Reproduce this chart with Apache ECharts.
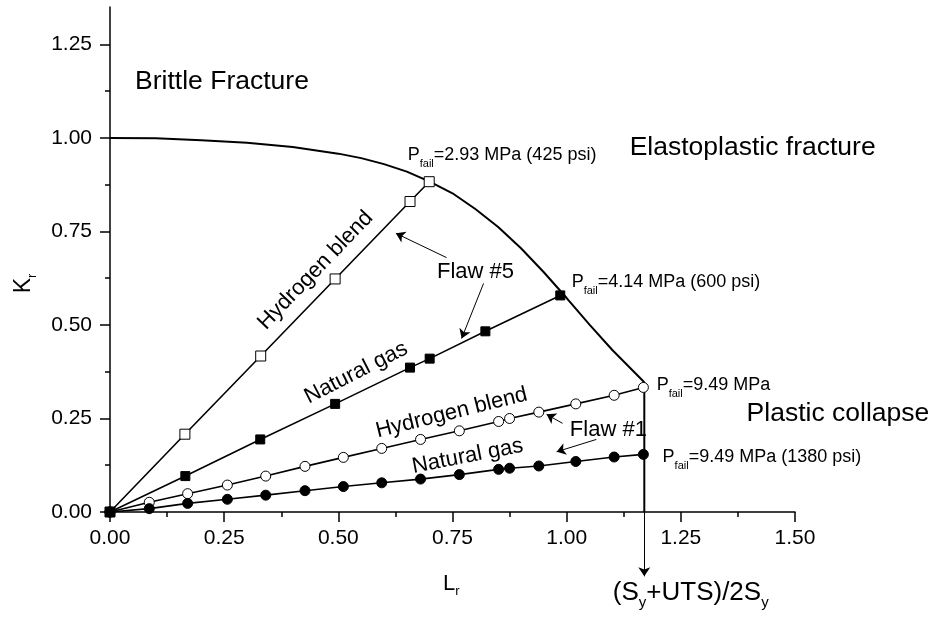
<!DOCTYPE html>
<html>
<head>
<meta charset="utf-8">
<script src="https://cdn.jsdelivr.net/npm/echarts@6/dist/echarts.min.js"></script>
<style>
  html, body { margin: 0; padding: 0; background: #fff; }
  #chart { width: 933px; height: 617px; }
</style>
</head>
<body>
<div id="chart"></div>
<script>
// FAD curve (Lr, Kr)
const fadLr = [0, 0.1, 0.2, 0.3, 0.4, 0.5, 0.55, 0.6, 0.65, 0.7, 0.75, 0.8, 0.85, 0.9, 0.95, 1.0, 1.05, 1.1, 1.17];
const fadKr = [1.0, 0.999, 0.994, 0.987, 0.976, 0.958, 0.946, 0.93, 0.91, 0.883, 0.852, 0.81, 0.762, 0.705, 0.641, 0.572, 0.501, 0.433, 0.347];
// Lr max cut-off
const cutLr = [1.17, 1.17];
const cutKr = [0.347, 0];

// Flaw #5
const h5Lr = [0, 0.164, 0.33, 0.493, 0.657, 0.699];
const h5Kr = [0, 0.208, 0.417, 0.623, 0.83, 0.883];
const n5Lr = [0, 0.165, 0.329, 0.493, 0.657, 0.7, 0.822, 0.986];
const n5Kr = [0, 0.096, 0.194, 0.289, 0.386, 0.41, 0.483, 0.579];

// Flaw #1
const flaw1Lr = [0, 0.086, 0.17, 0.257, 0.341, 0.427, 0.511, 0.595, 0.68, 0.765, 0.851, 0.875, 0.939, 1.02, 1.104, 1.168];
const h1Kr = [0, 0.026, 0.049, 0.072, 0.096, 0.122, 0.146, 0.17, 0.194, 0.217, 0.242, 0.25, 0.267, 0.289, 0.312, 0.333];
const n1Kr = [0, 0.009, 0.023, 0.034, 0.045, 0.057, 0.068, 0.078, 0.088, 0.1, 0.114, 0.117, 0.123, 0.135, 0.147, 0.154];

// ticks
const yTicks = [0, 0.25, 0.5, 0.75, 1.0, 1.25];
const yMinorTicks = [0.125, 0.375, 0.625, 0.875, 1.125];

const FONT = '"Liberation Sans", Arial, sans-serif';
const zip = (xs, ys) => xs.map((x, i) => [x, ys[i]]);

let chart = echarts.init(document.getElementById('chart'), null, { renderer: 'canvas' });

const black = '#000';
const axisLine = { show: true, lineStyle: { color: black, width: 1.5 } };

function dataSeries(name, data, symbol, fill, size) {
    return {
        name: name,
        type: 'line',
        data: data,
        symbol: symbol,
        symbolSize: size,
        showSymbol: true,
        lineStyle: { color: black, width: 1.6 },
        itemStyle: { color: fill, borderColor: black, borderWidth: 1 },
        z: 3
    };
}

// arrows, coords in (Lr, Kr)
const arrows = [
    [[0.737, 0.680], [0.626, 0.745]],
    [[0.818, 0.611], [0.770, 0.464]],
    [[0.991, 0.237], [0.956, 0.261]],
    [[1.065, 0.194], [0.978, 0.161]],
    [[1.17, 0], [1.17, -0.172]]
];

chart.setOption({
    animation: false,
    backgroundColor: '#fff',
    grid: { left: 110, right: 138, top: 7, bottom: 105 },
    xAxis: {
        type: 'value',
        min: 0,
        max: 1.5,
        interval: 0.25,
        axisLine: axisLine,
        axisTick: { length: 10, lineStyle: { color: black, width: 1.5 } },
        minorTick: { show: true, splitNumber: 2, length: 5, lineStyle: { color: black, width: 1.5 } },
        axisLabel: { color: black, fontSize: 21, fontFamily: FONT, margin: 16, formatter: v => v.toFixed(2) },
        splitLine: { show: false }
    },
    yAxis: [{
        type: 'value',
        position: 'left',
        min: 0,
        max: 1.35,
        interval: 0.25,
        axisLine: axisLine,
        axisTick: { length: 10, customValues: yTicks, lineStyle: { color: black, width: 1.5 } },
        axisLabel: { color: black, fontSize: 21, fontFamily: FONT, margin: 18, customValues: yTicks, formatter: v => v.toFixed(2) },
        splitLine: { show: false }
    }, {
        type: 'value',
        position: 'left',
        min: 0,
        max: 1.35,
        axisLine: { show: false },
        axisTick: { length: 5, customValues: yMinorTicks, lineStyle: { color: black, width: 1.5 } },
        axisLabel: { show: false },
        splitLine: { show: false }
    }],
    series: [
        {
            name: 'FAD',
            type: 'line',
            data: zip(fadLr, fadKr),
            symbol: 'none',
            lineStyle: { color: black, width: 2 },
            z: 2
        },
        {
            name: 'Lr max',
            type: 'line',
            data: zip(cutLr, cutKr),
            symbol: 'none',
            lineStyle: { color: black, width: 2 },
            z: 2
        },
        dataSeries('Hydrogen blend, Flaw #5', zip(h5Lr, h5Kr), 'rect', '#fff', 10),
        dataSeries('Natural gas, Flaw #5', zip(n5Lr, n5Kr), 'rect', black, 9),
        dataSeries('Hydrogen blend, Flaw #1', zip(flaw1Lr, h1Kr), 'circle', '#fff', 10),
        dataSeries('Natural gas, Flaw #1', zip(flaw1Lr, n1Kr), 'circle', black, 10),
        {
            type: 'lines',
            coordinateSystem: 'cartesian2d',
            clip: false,
            symbol: ['none', 'arrow'],
            symbolSize: 9,
            lineStyle: { color: black, width: 1, opacity: 1 },
            data: arrows.map(a => ({ coords: a })),
            z: 4
        }
    ]
});

// annotations, anchored in (Lr, Kr)
const subRich = (big, small, pad) => ({
    m: { fontSize: big, fontFamily: FONT, fill: black },
    s: { fontSize: small, fontFamily: FONT, fill: black, padding: [pad, 0, 0, 0] }
});
const notes = [
    { at: [0.055, 1.151], text: 'Brittle Fracture', size: 26.5 },
    { at: [1.138, 0.975], text: 'Elastoplastic fracture', size: 26.5 },
    { at: [1.394, 0.264], text: 'Plastic collapse', size: 26.5 },
    { at: [0.716, 0.643], text: 'Flaw #5', size: 22 },
    { at: [1.007, 0.219], text: 'Flaw #1', size: 22 },
    { at: [0.450, 0.646], text: 'Hydrogen blend', size: 22, rot: 46, center: true },
    { at: [0.539, 0.372], text: 'Natural gas', size: 22, rot: 27, center: true },
    { at: [0.748, 0.265], text: 'Hydrogen blend', size: 22, rot: 14, center: true },
    { at: [0.783, 0.149], text: 'Natural gas', size: 22, rot: 11, center: true },
    { at: [0.652, 0.954], rich: '{m|P}{s|fail}{m|=2.93 MPa (425 psi)}', big: 18, small: 11, pad: 18 },
    { at: [1.011, 0.614], rich: '{m|P}{s|fail}{m|=4.14 MPa (600 psi)}', big: 18, small: 11, pad: 18 },
    { at: [1.197, 0.339], rich: '{m|P}{s|fail}{m|=9.49 MPa}', big: 18, small: 11, pad: 18 },
    { at: [1.210, 0.146], rich: '{m|P}{s|fail}{m|=9.49 MPa (1380 psi)}', big: 18, small: 11, pad: 18 },
    { at: [0.729, -0.191], rich: '{m|L}{s|r}', big: 22, small: 13, pad: 16 },
    { at: [1.101, -0.217], rich: '{m|(S}{s|y}{m|+UTS)/2S}{s|y}', big: 26, small: 15, pad: 19 },
    { at: [-0.188, 0.611], rich: '{m|K}{s|r}', big: 23, small: 13, pad: 16, rot: 90, center: true }
];

const graphic = notes.map(n => {
    const p = chart.convertToPixel({ gridIndex: 0 }, n.at);
    const style = {
        fill: black,
        align: n.center ? 'center' : 'left',
        verticalAlign: 'middle',
        textAlign: n.center ? 'center' : 'left',
        textVerticalAlign: 'middle'
    };
    if (n.rich) {
        style.text = n.rich;
        style.rich = subRich(n.big, n.small, n.pad);
    } else {
        style.text = n.text;
        style.font = n.size + 'px ' + FONT;
    }
    return {
        type: 'text',
        x: p[0],
        y: p[1],
        rotation: (n.rot || 0) * Math.PI / 180,
        style: style,
        z: 10
    };
});

chart.setOption({ graphic: graphic });
</script>
</body>
</html>
